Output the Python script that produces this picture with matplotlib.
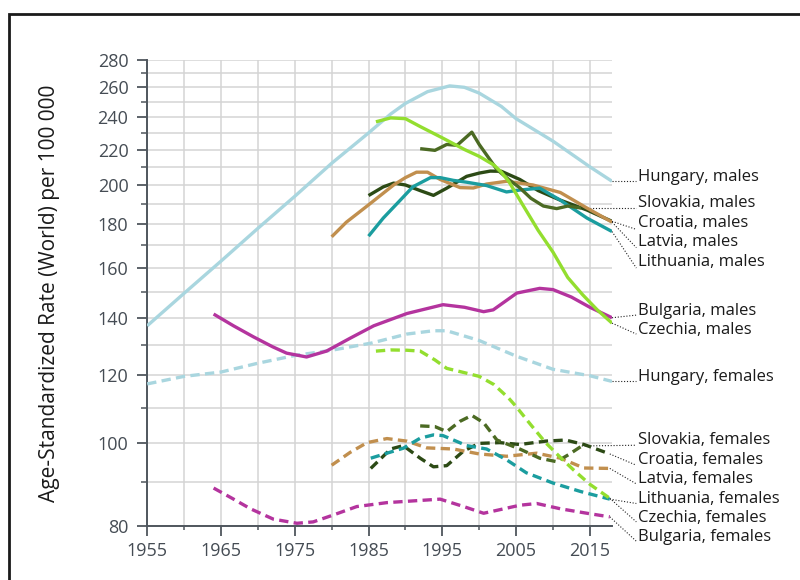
import numpy as np
import matplotlib
matplotlib.use("Agg")
import matplotlib.pyplot as plt
from matplotlib.ticker import FixedLocator, NullFormatter, FixedFormatter
from matplotlib.patches import Rectangle

plt.rcParams['font.family'] = ['Open Sans', 'DejaVu Sans']

#series values (year, rate)
hu_m_years = [1955, 1960, 1965, 1970, 1975, 1980, 1985, 1988, 1990, 1993, 1996, 1998, 2000, 2003, 2005, 2010, 2015, 2018]
hu_m_vals = [137, 149.5, 163, 178, 194, 212, 230, 242, 249, 257, 261, 260, 256, 247, 239, 225, 210, 202]

sk_m_years = [1992, 1994, 1995.6, 1997, 1999, 2000, 2002.4, 2004, 2005.5, 2007, 2008.7, 2010.5, 2012, 2013.8]
sk_m_vals = [220.5, 219.5, 223, 222.5, 230.5, 223, 208.5, 203, 198.5, 193, 189, 187.7, 189, 188]

hr_m_years = [1985, 1987, 1988.4, 1990, 1992, 1993.8, 1995.6, 1998.3, 2000, 2001.5, 2003, 2005.5, 2008, 2011, 2014.6, 2018]
hr_m_vals = [194.4, 199, 201, 200, 197, 194.5, 198.3, 204.7, 206.5, 207.6, 207.5, 203, 197, 192, 187, 181.4]

lv_m_years = [1980, 1982, 1984.8, 1988.4, 1990, 1991.5, 1993, 1994.7, 1997.4, 1999.2, 2001, 2003.7, 2007.3, 2011, 2014.6, 2018]
lv_m_vals = [174, 181, 189, 200, 204, 207, 207, 203, 198.6, 198.4, 200.5, 202, 200, 196, 188, 181]

lt_m_years = [1985, 1987, 1989.3, 1991, 1993.4, 1994.7, 1996.5, 1998.3, 2001, 2003.7, 2005.5, 2008.2, 2011, 2014.6, 2018]
lt_m_vals = [174.3, 183, 192, 199, 204, 204, 202.5, 201.5, 199.7, 196.3, 197.3, 198.3, 192, 183, 176.5]

bg_m_years = [1964, 1966.7, 1969.4, 1972, 1973.9, 1976.6, 1979.3, 1982.5, 1985.7, 1990.2, 1995.1, 1998, 2000.6, 2001.9, 2005.1, 2008.2, 2010, 2012.5, 2015, 2018]
bg_m_vals = [141.4, 137, 133, 129.5, 127.3, 126, 128, 132.5, 137, 141.6, 145, 144, 142.3, 143, 149.6, 151.5, 151, 148, 144, 140]

cz_m_years = [1986, 1988, 1990, 1992, 1995, 1998, 2000, 2002, 2003, 2004, 2006, 2008, 2010, 2012, 2014, 2016, 2018]
cz_m_vals = [237, 239.5, 239, 234, 227, 220, 216, 211, 207, 202, 189, 177, 167, 156, 149, 143, 138]

hu_f_years = [1955, 1960, 1965, 1970, 1975, 1980, 1985.4, 1990.2, 1993.8, 1995.6, 2000, 2005, 2010, 2015, 2018]
hu_f_vals = [117.2, 119.6, 121, 123.9, 126.5, 128.3, 130.8, 134, 135.2, 135.2, 131.7, 126.3, 121.9, 119.8, 118]

sk_f_years = [1992, 1994, 1995.6, 1997.4, 1999, 2000.6, 2002.4, 2005.5, 2008.2, 2010.5, 2012.1, 2013.9]
sk_f_vals = [104.7, 104.5, 103.1, 106, 107.7, 105.6, 100.8, 98.4, 96, 95.1, 96.9, 99.2]

hr_f_years = [1985.3, 1988, 1989.7, 1992, 1993.8, 1995.6, 1997.9, 2000, 2002.8, 2005.5, 2009, 2011.7, 2014.2, 2017.7]
hr_f_vals = [93.4, 98.4, 99.3, 96, 93.8, 94.1, 97.9, 99.9, 100.1, 99.6, 100.5, 100.8, 99.6, 97.1]

lv_f_years = [1980, 1982.5, 1984.8, 1987.5, 1990.2, 1992.9, 1996.5, 2000, 2003.7, 2007.8, 2011, 2014.2, 2017.7]
lv_f_vals = [94.2, 97.5, 100.1, 101.2, 100.5, 98.7, 98.4, 97.1, 96.5, 97.3, 96, 93.5, 93.4]

lt_f_years = [1985.3, 1987.5, 1989.7, 1992, 1993.8, 1995.1, 1998.3, 2001, 2003.7, 2006.4, 2010, 2013.7, 2017.7]
lt_f_vals = [96, 97.3, 98.6, 101.3, 102.2, 102, 99.3, 98.4, 95.6, 92.3, 89.8, 87.8, 86]

cz_f_years = [1986, 1988, 1990.2, 1992, 1994, 1995.6, 1998, 2000, 2002, 2004, 2005, 2007, 2009, 2011, 2012.8, 2015, 2017.7]
cz_f_vals = [128, 128.4, 128.3, 128, 125, 122.2, 120.8, 119.6, 117, 112.8, 110.3, 105, 100.1, 96.2, 93, 89.5, 86.2]

bg_f_years = [1964, 1966.5, 1969, 1972.1, 1975.3, 1977.5, 1980.2, 1983.4, 1987.5, 1992, 1994.7, 1997.9, 2000.6, 2002.8, 2005.5, 2007.8, 2011, 2014.6, 2017.7]
bg_f_vals = [88.6, 86.2, 83.8, 81.5, 80.6, 80.9, 82.4, 84.3, 85.2, 85.7, 86.0, 84.3, 82.8, 83.6, 84.6, 85.0, 83.8, 82.8, 82.0]

y_ticks = [80, 100, 120, 140, 160, 180, 200, 220, 240, 260, 280]
y_minor = [90, 110, 130, 150, 170, 190, 210, 230, 250, 270]
x_ticks = [1955, 1965, 1975, 1985, 1995, 2005, 2015]
x_minor = [1960, 1970, 1980, 1990, 2000, 2010]

colors = {
    "Hungary": "#a9d6df",
    "Czechia": "#93de2f",
    "Slovakia": "#4b6a23",
    "Croatia": "#2c4a15",
    "Latvia": "#c18f4e",
    "Lithuania": "#1b9d9f",
    "Bulgaria": "#b4349e",
}

#(country, sex, years, values, label y, leader end y)
series = [
    ("Hungary", "males", hu_m_years, hu_m_vals, 204.6, 202),
    ("Slovakia", "males", sk_m_years, sk_m_vals, 190.7, 188),
    ("Croatia", "males", hr_m_years, hr_m_vals, 180.7, 177.5),
    ("Latvia", "males", lv_m_years, lv_m_vals, 171.8, 169),
    ("Lithuania", "males", lt_m_years, lt_m_vals, 162.7, 160),
    ("Bulgaria", "males", bg_m_years, bg_m_vals, 142.7, 141),
    ("Czechia", "males", cz_m_years, cz_m_vals, 135.5, 134),
    ("Hungary", "females", hu_f_years, hu_f_vals, 119.4, 118),
    ("Slovakia", "females", sk_f_years, sk_f_vals, 100.8, 99.4),
    ("Croatia", "females", hr_f_years, hr_f_vals, 95.5, 94.2),
    ("Latvia", "females", lv_f_years, lv_f_vals, 90.8, 89.6),
    ("Lithuania", "females", lt_f_years, lt_f_vals, 86.0, 85.0),
    ("Czechia", "females", cz_f_years, cz_f_vals, 81.7, 80.9),
    ("Bulgaria", "females", bg_f_years, bg_f_vals, 77.6, 76.8),
]

draw_order = ["Hungary", "Croatia", "Latvia", "Lithuania", "Slovakia", "Bulgaria", "Czechia"]


def main():
    fig = plt.figure(figsize=(8, 5.8), dpi=100)
    ax = fig.add_axes([0.184, 0.093, 0.581, 0.804])
    ax.set_yscale("log")

    for country, sex, yrs, vals, lab_y, lead_y in series:
        ls = "-" if sex == "males" else (0, (2.8, 1.6))
        z = 3 + draw_order.index(country) * 0.1
        ax.plot(yrs, vals, color=colors[country], lw=2.4, linestyle=ls,
                solid_capstyle="butt", dash_capstyle="butt", zorder=z)
        #dotted leader line to the label
        ax.plot([yrs[-1], 2021.3], [vals[-1], lead_y], color="#222222", lw=0.8,
                linestyle=(0, (1, 1.6)), clip_on=False, zorder=2)
        ax.text(2021.5, lab_y, f"{country}, {sex}", va="center", ha="left",
                fontsize=12, color="#1a1a1a", clip_on=False)

    ax.set_xlim(1955, 2018)
    ax.set_ylim(80, 280)
    ax.yaxis.set_major_locator(FixedLocator(y_ticks))
    ax.yaxis.set_major_formatter(FixedFormatter([str(t) for t in y_ticks]))
    ax.yaxis.set_minor_locator(FixedLocator(y_minor))
    ax.yaxis.set_minor_formatter(NullFormatter())
    ax.set_xticks(x_ticks)
    ax.set_xticks(x_minor, minor=True)

    for v in y_ticks + y_minor:
        ax.axhline(v, color="#d4d4d4", lw=1.1, zorder=0)
    for yr in range(1955, 2018, 5):
        ax.axvline(yr, color="#d4d4d4", lw=1.1, zorder=0)

    for s in ["top", "right"]:
        ax.spines[s].set_visible(False)
    for s in ["left", "bottom"]:
        ax.spines[s].set_color("#4f565d")
        ax.spines[s].set_linewidth(1.4)
    ax.tick_params(which="major", length=7.5, width=1.3, color="#4f565d",
                   labelsize=13, labelcolor="#454c54")
    ax.tick_params(axis="y", which="major", pad=6)
    ax.tick_params(axis="x", which="major", pad=4)
    ax.tick_params(axis="y", which="minor", length=4.5, width=1.1, color="#4f565d")
    ax.tick_params(axis="x", which="minor", length=3, width=1.1, color="#4f565d")

    ax.set_ylabel("Age-Standardized Rate (World) per 100 000", fontsize=15,
                  color="#1a1a1a")
    ax.yaxis.set_label_coords(-0.187, 0.5)

    #frame round the figure
    fig.patches.append(Rectangle((0.011, -0.05), 1.1, 1.026, transform=fig.transFigure,
                                 fill=False, edgecolor="#1a1a1a", lw=2))

    fig.savefig("out.png", dpi=100)


if __name__ == "__main__":
    main()
